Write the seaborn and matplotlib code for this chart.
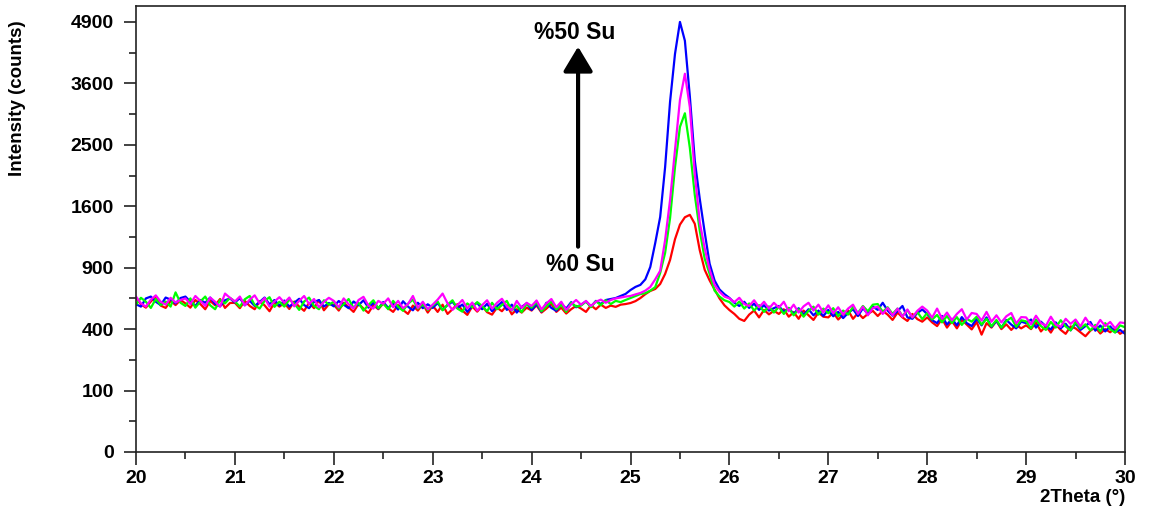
import numpy as np
import pandas as pd
import matplotlib
matplotlib.use("Agg")
import matplotlib.pyplot as plt
import seaborn as sns
from matplotlib.ticker import FixedLocator, MultipleLocator, NullFormatter

# Scan positions (2θ, degrees), 0.05° step
two_theta = np.round(np.linspace(20.0, 30.0, 201), 2)

counts_red = [
    628, 578, 552, 600, 640, 568, 550, 605, 572, 612,
    585, 552, 612, 580, 540, 605, 570, 620, 550, 588,
    590, 548, 605, 565, 540, 602, 570, 525, 592, 560,
    588, 542, 600, 560, 528, 590, 548, 610, 532, 578,
    575, 530, 590, 555, 520, 582, 545, 512, 572, 540,
    585, 548, 520, 572, 535, 505, 568, 530, 580, 515,
    568, 520, 575, 505, 540, 580, 530, 498, 562, 522,
    565, 518, 500, 552, 525, 570, 502, 540, 515, 552,
    530, 570, 515, 545, 582, 520, 552, 508, 540, 566,
    545, 520, 570, 540, 575, 550, 568, 558, 575, 580,
    588, 603, 628, 660, 687, 704, 748, 840, 977, 1200,
    1370, 1460, 1490, 1380, 1080, 880, 780, 700, 625, 570,
    534, 505, 470, 455, 500, 530, 480, 535, 502, 528,
    505, 540, 485, 518, 470, 530, 495, 462, 515, 485,
    480, 515, 465, 500, 532, 470, 512, 475, 505, 528,
    490, 528, 500, 462, 515, 480, 455, 505, 468, 450,
    480, 445, 420, 470, 410, 455, 405, 462, 430, 398,
    448, 365, 440, 410, 455, 400, 432, 395, 428, 405,
    425, 400, 445, 385, 420, 378, 430, 395, 370, 418,
    405, 380, 355, 390, 412, 372, 400, 380, 405, 370,
    390,
]

counts_blue = [
    578, 560, 625, 640, 598, 572, 632, 615, 585, 628,
    640, 598, 566, 612, 590, 632, 580, 562, 610, 625,
    592, 628, 570, 606, 565, 596, 632, 578, 612, 568,
    608, 560, 590, 622, 572, 548, 596, 612, 560, 588,
    562, 604, 575, 548, 600, 570, 610, 552, 590, 545,
    596, 550, 582, 538, 602, 560, 532, 590, 548, 578,
    550, 588, 535, 572, 598, 548, 576, 520, 565, 590,
    540, 582, 525, 562, 596, 535, 575, 515, 558, 585,
    534, 578, 522, 590, 550, 528, 582, 545, 595, 555,
    575, 600, 560, 605, 580, 612, 620, 628, 645, 662,
    695, 722, 740, 790, 907, 1157, 1463, 2150, 3250, 4200,
    4900, 4480, 3350, 2250, 1700, 1280, 940, 780, 700, 660,
    629, 590, 565, 598, 550, 583, 535, 571, 530, 548,
    565, 520, 550, 505, 548, 498, 540, 495, 530, 490,
    535, 488, 520, 475, 512, 540, 490, 548, 505, 560,
    535, 590, 530, 492, 526, 565, 480, 470, 512, 538,
    505, 460, 440, 490, 430, 470, 425, 482, 440, 420,
    470, 425, 480, 415, 455, 410, 462, 430, 405, 450,
    440, 465, 410, 450, 418, 398, 445, 405, 436, 392,
    438, 395, 420, 448, 390, 424, 385, 418, 380, 395,
    370,
]

counts_green = [
    575, 630, 598, 550, 620, 572, 600, 560, 675, 590,
    565, 625, 552, 600, 640, 570, 540, 612, 585, 630,
    600, 560, 618, 645, 572, 545, 605, 635, 558, 598,
    560, 615, 585, 535, 600, 632, 565, 540, 610, 575,
    598, 545, 578, 620, 550, 590, 530, 572, 610, 548,
    585, 540, 605, 560, 528, 582, 615, 545, 578, 535,
    568, 600, 532, 575, 610, 545, 522, 585, 555, 595,
    565, 525, 590, 540, 572, 605, 530, 568, 518, 582,
    552, 595, 525, 562, 600, 538, 575, 520, 590, 560,
    568, 600, 555, 602, 572, 610, 580, 605, 595, 612,
    628, 645, 661, 668, 690, 720, 849, 1050, 1450, 2150,
    2800, 3040, 2450, 1750, 1300, 990, 840, 690, 640, 610,
    596, 560, 600, 545, 585, 530, 572, 520, 562, 515,
    558, 505, 550, 495, 540, 485, 528, 560, 500, 545,
    510, 548, 488, 530, 500, 558, 512, 565, 525, 575,
    580, 520, 555, 505, 545, 490, 532, 480, 520, 468,
    512, 465, 498, 445, 490, 440, 482, 428, 470, 450,
    485, 430, 470, 418, 462, 410, 455, 478, 415, 460,
    452, 405, 465, 420, 395, 448, 410, 460, 418, 392,
    448, 405, 432, 392, 428, 385, 440, 400, 378, 425,
    412,
]

counts_magenta = [
    640, 585, 560, 615, 650, 598, 575, 630, 592, 612,
    625, 580, 645, 605, 565, 632, 598, 560, 665, 630,
    600, 640, 570, 615, 650, 585, 628, 560, 600, 635,
    590, 632, 562, 605, 645, 580, 620, 555, 598, 630,
    605, 555, 625, 578, 545, 612, 638, 568, 545, 605,
    582, 625, 555, 605, 548, 580, 645, 550, 598, 540,
    575, 615, 665, 585, 535, 572, 612, 545, 592, 530,
    572, 610, 545, 590, 622, 562, 532, 605, 550, 590,
    565, 608, 540, 585, 620, 555, 598, 535, 578, 612,
    575, 605, 565, 598, 615, 590, 612, 625, 632, 640,
    645, 658, 670, 690, 722, 790, 870, 1190, 1683, 2417,
    3283, 3790, 3150, 2050, 1400, 1100, 880, 740, 680, 640,
    625, 595, 630, 580, 565, 610, 555, 598, 545, 590,
    552, 598, 525, 575, 515, 562, 590, 530, 575, 515,
    570, 510, 555, 500, 545, 575, 505, 560, 495, 548,
    560, 505, 550, 495, 545, 485, 538, 480, 528, 560,
    530, 478, 545, 470, 515, 460, 505, 540, 465, 512,
    505, 458, 520, 450, 495, 445, 488, 512, 438, 482,
    480, 432, 492, 440, 422, 485, 430, 415, 470, 435,
    465, 418, 478, 428, 410, 462, 420, 448, 405, 445,
    440,
]

series_names = ["red", "blue", "green", "magenta"]
series_colors = {"red": "#ff0000", "blue": "#0000ff",
                 "green": "#00ff00", "magenta": "#ff00ff"}

y_ticks = [0, 100, 400, 900, 1600, 2500, 3600, 4900]
y_minor_ticks = [25, 225, 625, 1225, 2025, 3025, 4225]
x_ticks = [20, 21, 22, 23, 24, 25, 26, 27, 28, 29, 30]

label_high = "%50 Su"
label_low = "%0 Su"

df = pd.concat([
    pd.DataFrame({"two_theta": two_theta, "counts": vals, "sample": name})
    for name, vals in zip(series_names,
                          [counts_red, counts_blue, counts_green, counts_magenta])
], ignore_index=True)

sns.set_style("white")
plt.rcParams["font.family"] = ["Liberation Sans", "DejaVu Sans"]
plt.rcParams["font.weight"] = "bold"
plt.rcParams["text.color"] = "black"

fig = plt.figure(figsize=(11.56, 5.15), dpi=100)
ax = fig.add_axes([136 / 1156, 1 - 452 / 515, (1125 - 136) / 1156, (452 - 6) / 515])

sns.lineplot(data=df, x="two_theta", y="counts", hue="sample",
             hue_order=series_names, palette=series_colors,
             estimator=None, sort=False, legend=False, linewidth=1.6, ax=ax)

# square-root intensity axis
ax.set_yscale("function",
              functions=(lambda v: np.sqrt(np.clip(v, 0, None)), lambda s: np.square(s)))
ax.set_xlim(20, 30)
ax.set_ylim(0, 5270)

ax.yaxis.set_major_locator(FixedLocator(y_ticks))
ax.yaxis.set_minor_locator(FixedLocator(y_minor_ticks))
ax.yaxis.set_minor_formatter(NullFormatter())
ax.set_yticklabels([str(t) for t in y_ticks])
ax.xaxis.set_major_locator(FixedLocator(x_ticks))
ax.xaxis.set_minor_locator(MultipleLocator(0.5))
ax.set_xticklabels([str(t) for t in x_ticks])

ax.tick_params(axis="both", which="major", direction="out", length=9, width=1.2,
               color="#222222", labelsize=14, labelcolor="black", bottom=True, left=True)
ax.tick_params(axis="both", which="minor", direction="out", length=5, width=1.2,
               color="#222222", bottom=True, left=True)
ax.tick_params(axis="y", which="major", pad=7)
ax.tick_params(axis="x", which="major", pad=4)
for lab in ax.get_xticklabels() + ax.get_yticklabels():
    lab.set_fontweight("bold")

for side in ["left", "right", "top", "bottom"]:
    ax.spines[side].set_visible(True)
    ax.spines[side].set_color("#222222")
    ax.spines[side].set_linewidth(1.2)

ax.set_xlabel("")
ax.set_ylabel("")
fig.text(18 / 1156, 1 - 98 / 515, "Intensity (counts)", rotation=90,
         ha="center", va="center", fontsize=13.5, fontweight="bold", color="black")
fig.text(1125 / 1156, 1 - 497 / 515, "2Theta (°)", ha="right", va="center",
         fontsize=13.5, fontweight="bold", color="black")

ax.annotate("", xy=(24.47, 4353), xytext=(24.47, 1117),
            arrowprops=dict(arrowstyle="-|>,head_length=0.75,head_width=0.45",
                            mutation_scale=20, lw=3, color="black",
                            shrinkA=0, shrinkB=0))
ax.text(24.44, 4652, label_high, ha="center", va="center",
        fontsize=16.5, fontweight="bold", color="black")
ax.text(24.49, 927, label_low, ha="center", va="center",
        fontsize=16.5, fontweight="bold", color="black")

fig.savefig("out.png", dpi=100, facecolor="white")
